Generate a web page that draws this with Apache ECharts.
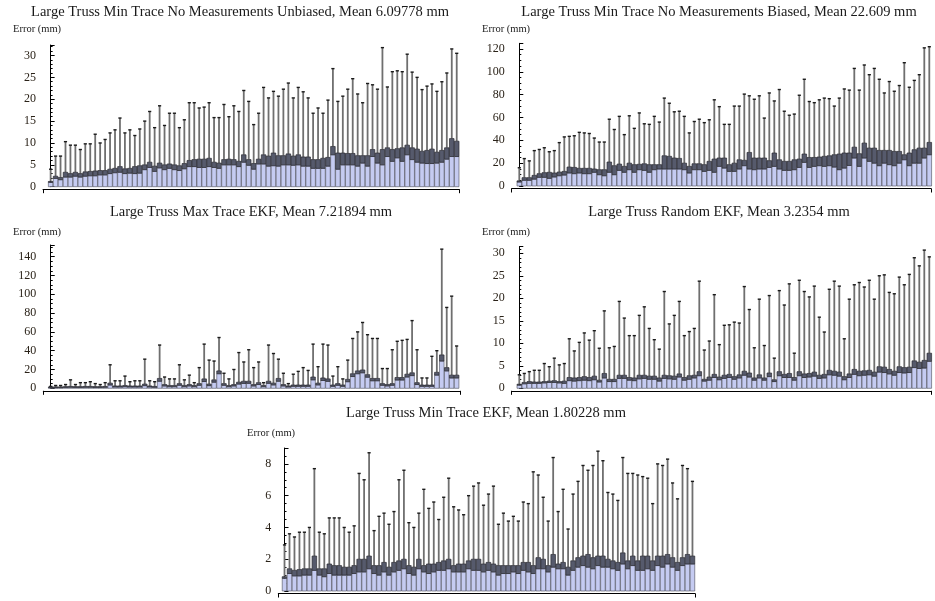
<!DOCTYPE html>
<html><head><meta charset="utf-8">
<script src="https://cdn.jsdelivr.net/npm/echarts@6/dist/echarts.min.js"></script>
<style>html,body{margin:0;padding:0;background:#fff}#c{width:935px;height:601px}</style>
</head><body><div id="c"></div>
<script>
// ---------- DATA ----------
const titles = [
  "Large Truss Min Trace No Measurements Unbiased, Mean 6.09778 mm",
  "Large Truss Min Trace No Measurements Biased, Mean 22.609 mm",
  "Large Truss Max Trace EKF, Mean 7.21894 mm",
  "Large Truss Random EKF, Mean 3.2354 mm",
  "Large Truss Min Trace EKF, Mean 1.80228 mm"
];
const yAxisName = "Error (mm)";

// Panel 1: Min Trace No Measurements Unbiased
const p1Lo = [1.0,1.9,1.6,2.2,2.2,2.4,2.2,2.4,2.5,2.5, 2.7,2.7,3.0,3.2,3.3,3.0,3.1,3.0,3.1,3.9,
  4.4,3.5,4.3,3.9,4.2,3.9,3.7,4.1,4.6,4.6, 4.4,4.4,4.6,4.4,4.2,5.0,5.0,5.0,4.6,5.6,
  4.9,4.0,5.2,5.2,4.7,4.8,4.7,5.0,5.0,4.9, 5.0,4.7,4.7,4.2,4.2,4.2,4.7,7.3,4.0,5.0,
  5.0,5.0,4.7,5.4,4.7,6.9,5.4,5.0,6.9,5.8, 6.6,5.8,7.3,6.2,5.6,5.4,5.3,5.3,5.4,5.6, 6.3,6.9,6.9];
const p1Hi = [1.2,2.4,2.1,3.3,3.0,3.3,3.0,3.4,3.5,3.6, 3.7,3.7,4.0,4.2,4.6,4.1,4.2,4.6,4.8,5.0,
  5.6,4.7,5.4,5.0,5.2,5.0,4.8,5.3,6.0,6.2, 6.3,6.3,6.5,5.6,5.4,6.2,6.3,6.2,5.8,7.3,
  6.2,5.3,6.3,7.3,7.0,7.7,7.1,7.1,7.5,7.0, 7.3,6.8,6.8,6.2,6.2,6.5,6.7,9.2,7.7,7.7,
  7.6,7.6,7.1,7.1,7.1,8.5,7.7,8.5,8.9,8.5, 8.7,8.9,9.5,8.9,8.6,8.1,8.3,8.6,7.9,8.3, 8.9,11.0,10.4];
const p1Max = [4,7,7,10.3,9.5,9.5,8.5,9.8,9.8,12, 10,10.8,12.3,13,15.7,12.3,13,11.7,13.2,15,
  17.2,13.5,18.5,14,16.8,16.8,13.5,15.3,19.2,19.2, 18,18.2,19.2,15.8,15.8,18.8,16,18.5,17.2,22,
  19.5,14.2,16.8,22.7,20.3,21.8,20.7,22.3,23.7,20.3, 22.7,21.7,20.3,16.8,18,16.8,19.8,27,19.5,20.7,
  22.3,24.7,21.2,19.2,23.6,23.3,22.3,31.8,22.8,26.3, 26.5,26.3,30.3,26.2,25,22.2,23,23.5,21.8,24, 26,31.5,30.5];

// Panel 2: Min Trace No Measurements Biased
const p2Lo = [3.5,5,5,6,7.6,7.6,6.7,7.9,9,9.6, 11.4,10.8,11.4,10.8,10.8,12,9.9,9,12,9.9,
  13.7,12,14.3,12,14.3,13.7,12,14.3,14.9,14.9, 14.9,14.9,14.9,14.3,11.4,14.3,14.3,12.8,13.7,12,
  17.2,15.7,12.8,12.8,14.9,17.8,14.9,14.3,14.9,14.9, 16.3,17.2,14.9,13.7,13.7,14.3,16.3,20.7,16.3,17.2,
  17.8,17.2,17.8,16.6,14.3,15.7,18,24.5,17.2,24.5, 21.6,20,17.8,20,18.7,17.8,20,23,17.8,20, 20,24.5,27.4];
const p2Hi = [4.5,7.3,7.3,9.3,10.8,11.7,12,11.4,12.2,12.8, 16.6,16.3,15.5,15.5,15.5,14.9,14.3,14.3,21,17.8,
  19.2,17.2,20,18.7,19,19.5,18.7,18.7,18.7,26.5, 26,24.5,24.2,20,17.2,19.5,19.5,18.7,21.6,23.6,
  24.5,24.5,18.7,20,23,22.5,29.4,24.5,24.5,24.5, 22.2,28.9,23,21.6,21.6,23,23.6,28,25,25,
  25.4,26,26.5,27.4,28,28.9,28.9,34,28.3,37.6, 33.2,33.2,31.2,31.2,31.2,30.3,30.3,27.4,28.9,31.8, 33.2,33.2,38.2];
const p2Max = [16,24,22,31,32,33.5,30,31,38,43, 43.5,44,47,46.5,46,42,38.5,38.5,58.5,49.5,
  61,45,61.5,50.5,64,54.5,54,61,56,77, 72.5,65,65.5,61,46.5,56.5,58.5,55.5,58,75.5,
  69.5,54,54,70,70,80.5,79,76,79,59.5, 81.5,74.5,84.5,65.5,62,63,79.5,93.5,74,73,
  75.5,77,76.5,70,77,85,84,103,84,106, 97.5,103,93.5,81.5,91.5,83,88,108,86.5,92.5, 97.5,121,122];

// Panel 3: Max Trace EKF
const p3Lo = [0.8,0.8,0.8,1,1.1,1,1,1.1,1.1,1, 1,1.1,3.5,1.4,1.4,1.7,1.4,1.4,1.4,2.8,
  1.4,1.1,7.5,2.5,1.7,1.7,3.2,1.7,2.5,1.7, 3.2,7.2,2.8,6.5,15.5,3.2,1.7,2.5,4.5,5.2,
  5.3,2.5,4,1.7,5.3,3.6,7.5,2.5,1.4,2.1, 2.1,2.1,2.1,9,3.6,8.3,7.4,2.1,3.2,2.1,
  7,12.5,15.5,16.5,11.8,8,8,3.2,2.5,3.2, 8.8,8.8,12,13.5,4,2.1,2.1,2.1,14,29, 18.5,11,11];
const p3Hi = [1.5,1.5,1.5,1.8,2,1.8,1.8,2,2,1.8, 1.8,2,5.5,2.5,2.5,3,2.5,2.5,2.5,4.5,
  2.5,2,10.5,4,3,3,5,3,4,3, 5,10,4.5,9,18.5,5,3,4,6.5,7.5,
  7.5,4,6,3,7.5,5.5,10.5,4,2.5,3.5, 3.5,3.5,3.5,12,5.5,11,10,3.5,5,3.5,
  9.5,15.5,18.5,19.5,14.5,10.5,10.5,5,4,5, 11.5,11.5,15,16.5,6,3.5,3.5,3.5,17,35.5, 22,14,14];
const p3Max = [2,3,3,4,9,4,6,6,7,5, 4,6,25,8,8,13,7,8,8,31,
  8,7,46,12,10,10,25,9,14,6, 22,47,30,29,54,16,10,20,38,28,
  41,22,28,6,46,37,31,16,5,15, 18,22,19,47,23,47,46,13,23,10,
  30,53,60,70,57,53,53,21,21,41, 50,51,52,72,41,11,11,34,40,148, 86,98,45];

// Panel 4: Random EKF
const p4Lo = [0.7,1.0,1.1,1.1,1.1,1.2,1.3,1.3,1.2,1.1, 1.7,1.6,1.7,1.8,1.7,1.9,1.4,2.3,1.5,1.5,
  2.2,2.2,1.8,1.7,2.1,2.2,2.0,2.0,1.6,2.2, 2.1,2.0,2.5,1.8,2.0,2.3,2.8,1.6,1.8,2.4,
  1.9,2.2,2.4,2.0,2.3,2.9,2.5,1.8,2.3,1.8, 2.6,1.5,2.8,2.4,2.4,1.8,2.8,2.4,2.5,2.7,
  2.2,2.3,3.0,2.9,2.7,1.9,2.4,3.1,2.8,2.9, 3.0,2.7,3.6,3.5,3.2,2.9,3.5,3.4,3.5,4.6, 4.4,4.5,6.0];
const p4Hi = [0.9,1.3,1.5,1.4,1.4,1.5,1.6,1.7,1.5,1.6, 2.4,2.3,2.4,2.6,2.4,2.7,1.8,3.3,2.0,2.0,
  2.9,2.9,2.4,2.3,2.9,2.9,2.7,2.7,2.3,2.9, 2.8,2.7,3.2,2.4,2.8,2.9,3.7,2.0,2.5,3.1,
  2.5,2.9,3.1,2.6,3.0,3.8,3.4,2.3,3.0,2.3, 3.4,1.9,3.7,3.1,3.3,2.4,3.7,3.2,3.3,3.6,
  2.9,3.1,4.0,3.8,3.6,2.6,3.2,4.2,3.8,3.9, 4.0,3.6,4.8,4.7,4.2,3.8,4.8,4.6,4.7,6.1, 5.8,6.2,7.8];
const p4Max = [3,3.3,3.7,4,4,5.5,4.8,6.7,5.2,5.5, 11,8.3,10.2,12.3,10.7,12.8,8.9,17.2,9,9.3,
  19.3,15.6,11.7,11.7,16.2,18.1,13.3,10.8,8.7,21.5, 14.3,16.2,19.3,11.7,12.6,13.3,23.8,8.5,10.5,20.8,
  9.7,14,14.1,14.7,14.5,22.6,17.5,9,19.8,9.5, 20.6,6.7,21.7,18.5,23.2,7.8,24,21.5,20.3,22.7,
  15.8,12.5,22,23.8,22.7,11,19.8,23,23.5,22.5, 24,19.8,25,25.2,21.3,21,24.7,23,25.3,29, 27.2,30.7,29.2];

// Panel 5: Min Trace EKF
const p5Lo = [0.8,1.1,0.95,0.95,1.0,1.0,1.3,1.0,0.9,1.1, 1.0,1.0,1.0,1.0,1.1,1.2,1.2,1.4,1.1,1.0,
  1.2,1.0,1.2,1.3,1.4,1.1,1.0,1.4,1.2,1.1, 1.2,1.3,1.3,1.4,1.2,1.2,1.2,1.4,1.3,1.3,
  1.2,1.3,1.2,1.0,1.1,1.1,1.2,1.1,1.3,1.2, 1.1,1.4,1.4,1.2,1.5,1.4,1.4,1.0,1.3,1.5,
  1.6,1.5,1.4,1.6,1.5,1.5,1.4,1.3,1.7,1.4, 1.6,1.3,1.3,1.4,1.3,1.6,1.5,1.7,1.5,1.3, 1.6,1.7,1.7];
const p5Hi = [0.9,1.4,1.3,1.35,1.4,1.4,2.2,1.4,1.4,1.7, 1.6,1.6,1.5,1.5,1.6,2.0,2.0,2.2,1.6,1.6,
  1.8,1.5,1.8,1.9,2.0,1.6,1.5,2.0,1.6,1.7, 1.7,1.8,1.9,2.0,1.6,1.7,1.7,1.9,2.0,2.0,
  1.7,1.8,1.7,1.6,1.6,1.6,1.6,1.6,1.8,1.8, 1.6,2.1,2.0,1.6,2.3,1.7,1.8,1.5,1.9,2.1,
  2.2,2.3,2.1,2.2,2.2,2.0,1.9,1.8,2.4,1.9, 2.2,1.9,2.2,2.2,1.9,2.2,2.2,2.3,2.1,1.8, 2.1,2.3,2.2];
const p5Max = [2.9,3.6,3.4,3.7,3.7,4.0,7.7,3.7,3.6,4.6, 4.6,4.6,4.0,3.7,4.1,7.4,7.0,8.7,3.8,4.7,
  4.9,4.2,5.0,7.0,7.6,4.3,4.0,4.9,6.4,5.2, 5.6,4.5,5.9,7.1,5.3,5.1,4.8,6.0,6.6,6.8,
  5.4,6.1,6.6,4.2,4.9,4.4,4.7,4.4,5.6,5.5, 7.5,7.3,5.9,4.4,8.4,5.0,6.4,3.9,6.1,6.9,
  7.9,7.6,7.9,8.8,8.2,6.2,6.1,5.7,8.4,7.4, 7.4,7.3,7.2,7.1,5.5,8.0,7.9,8.3,6.8,5.8, 7.9,7.7,6.9];

const yMax = [32.4, 125, 152.4, 31.5, 9.0];
const yInterval = [5, 20, 20, 5, 2];
const yMinorSplit = [5, 4, 4, 5, 4];

// ---------- LAYOUT ----------
const panels = [
  {lo:p1Lo, hi:p1Hi, mx:p1Max, grid:{left:43, top:45, width:416, height:141.7}, xr:[-1.54,82.46],
   title:[240,12], ylab:[13,29]},
  {lo:p2Lo, hi:p2Hi, mx:p2Max, grid:{left:511.7, top:43.3, width:419.3, height:142.7}, xr:[-1.52,82.34],
   title:[719,12], ylab:[482,29]},
  {lo:p3Lo, hi:p3Hi, mx:p3Max, grid:{left:43.3, top:245, width:416.7, height:143.3}, xr:[-1.5,82.68],
   title:[251,212], ylab:[13,232]},
  {lo:p4Lo, hi:p4Hi, mx:p4Max, grid:{left:511.7, top:246.5, width:419.3, height:141.8}, xr:[-1.52,82.34],
   title:[719,212], ylab:[482,232]},
  {lo:p5Lo, hi:p5Hi, mx:p5Max, grid:{left:278.3, top:448, width:416.7, height:143}, xr:[-1.25,82.51],
   title:[486,413], ylab:[247,433]}
];

const SERIF = '"Liberation Serif", "DejaVu Serif", serif';
const grids = [], xAxes = [], yAxes = [], series = [], graphics = [];

function renderItem(params, api) {
  const x = api.value(0), lo = api.value(1), hi = api.value(2), mx = api.value(3);
  const p0 = api.coord([x, 0]), pL = api.coord([x, lo]), pH = api.coord([x, hi]), pM = api.coord([x, mx]);
  const w = api.size([1, 0])[0] * 0.92;
  const cx = p0[0];
  return {
    type: 'group',
    children: [
      {type:'line', shape:{x1:cx, y1:pH[1], x2:cx, y2:pM[1]}, style:{stroke:'#6f6f6f', lineWidth:1.8}},
      {type:'line', shape:{x1:cx-1.6, y1:pM[1], x2:cx+1.6, y2:pM[1]}, style:{stroke:'#1a1a1a', lineWidth:1.4}},
      {type:'rect', shape:{x:cx-w/2, y:pL[1], width:w, height:p0[1]-pL[1]},
        style:{fill:'#c5cbf1', stroke:'#4a4c58', lineWidth:0.6}},
      {type:'rect', shape:{x:cx-w/2, y:pH[1], width:w, height:Math.max(pL[1]-pH[1],0.8)},
        style:{fill:'#565a6c', stroke:'#2a2a30', lineWidth:0.7}}
    ]
  };
}

panels.forEach((p, k) => {
  grids.push(Object.assign({containLabel:false}, p.grid));
  xAxes.push({type:'value', gridIndex:k, min:p.xr[0], max:p.xr[1], interval:1000, offset:2.5,
    axisLine:{show:true, onZero:false, lineStyle:{color:'#000', width:1}},
    axisTick:{show:true, length:4, lineStyle:{color:'#000'}},
    axisLabel:{show:false}, splitLine:{show:false}});
  yAxes.push({type:'value', gridIndex:k, min:0, max:yMax[k], interval:yInterval[k],
    axisLine:{show:true, lineStyle:{color:'#000', width:1}},
    axisTick:{show:true, inside:true, length:4, lineStyle:{color:'#000'}},
    minorTick:{show:true, splitNumber:yMinorSplit[k], length:2, lineStyle:{color:'#000'}},
    axisLabel:{show:true, showMaxLabel:false, margin:7, color:'#2a2218', fontFamily:SERIF, fontSize:12},
    splitLine:{show:false}, minorSplitLine:{show:false}});
  const data = p.lo.map((v, i) => [i, v, p.hi[i], p.mx[i]]);
  series.push({type:'custom', xAxisIndex:k, yAxisIndex:k, data:data, renderItem:renderItem,
    clip:false, silent:true, animation:false});
  graphics.push({type:'text', x:p.title[0], y:p.title[1],
    style:{text:titles[k], font:'14.5px ' + SERIF, fill:'#1a1a1a', align:'center', verticalAlign:'middle'}});
  graphics.push({type:'text', x:p.ylab[0], y:p.ylab[1],
    style:{text:yAxisName, font:'10.5px ' + SERIF, fill:'#1a1a1a', align:'left', verticalAlign:'middle'}});
});

const chart = echarts.init(document.getElementById('c'), null, {renderer:'canvas'});
chart.setOption({animation:false, backgroundColor:'#fff', grid:grids, xAxis:xAxes, yAxis:yAxes,
  series:series, graphic:graphics});
</script></body></html>
